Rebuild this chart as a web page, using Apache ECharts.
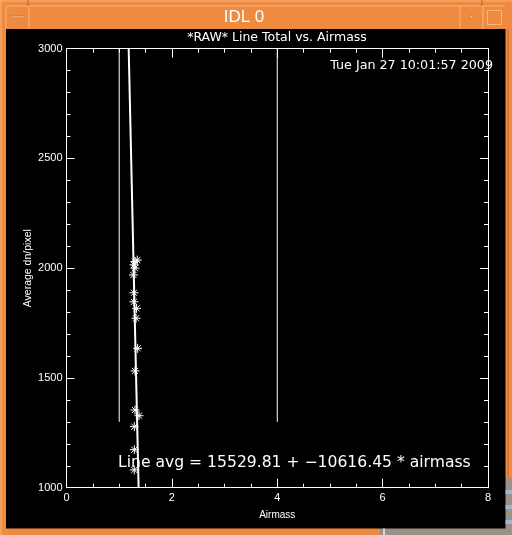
<!DOCTYPE html>
<html><head><meta charset="utf-8">
<script src="https://cdn.jsdelivr.net/npm/echarts@6/dist/echarts.min.js"></script>
<style>html,body{margin:0;padding:0;background:#000}#c{width:512px;height:535px}</style>
</head><body><div id="c"></div>
<script>
// ---- data ----
const airmass  = [1.343, 1.30, 1.28, 1.30, 1.27, 1.28, 1.28, 1.33, 1.32, 1.35, 1.30, 1.30, 1.376, 1.287, 1.287, 1.287];
const lineAvg  = [2037, 2030, 2015, 2000, 1969, 1888, 1847, 1817, 1772, 1635, 1532, 1354, 1328, 1278, 1173, 1081];
const fitIntercept = 15529.81;
const fitSlope = -10616.45;
const markerX = [1, 4];
const markerRange = [1300, 3000];
const xTicks = [0, 2, 4, 6, 8];
const yTicks = [1000, 1500, 2000, 2500, 3000];
const titleText = '*RAW* Line Total vs. Airmass';
const dateText = 'Tue Jan 27 10:01:57 2009';
const fitText = 'Line avg = 15529.81 + \u221210616.45 * airmass';
const xName = 'Airmass';
const yName = 'Average dn/pixel';
const windowTitle = 'IDL 0';

const FONT = '"DejaVu Sans", "Liberation Sans", sans-serif';
const LFONT = '"Liberation Sans", "DejaVu Sans", sans-serif';
const scatterPts = airmass.map((x, i) => [x, lineAvg[i]]);
const fitPts = [markerRange[1], yTicks[0]].map(v => [(v - fitIntercept) / fitSlope, v]);
const markerSeries = markerX.map(x => ({
  type: 'line', data: markerRange.map(v => [x, v]), symbol: 'none',
  lineStyle: { color: '#fff', width: 1 }, silent: true
}));

const ORANGE = '#ee8b40', LIGHT = '#f8b57e', DARK = '#b8642a', GRAY = '#9c8f86', BLUE = '#9fb2d8';
const GRID = { left: 66.5, right: 24, top: 48.7, bottom: 47.3, containLabel: false };

function xAx(gridIndex, position, interval, len, extra) {
  return Object.assign({
    gridIndex, position, type: 'value', min: xTicks[0], max: xTicks[xTicks.length - 1], interval,
    axisLine: { show: true, onZero: false, lineStyle: { color: '#fff', width: 1 } },
    axisTick: { show: true, inside: true, length: len, lineStyle: { color: '#fff', width: 1 } },
    axisLabel: { show: false }, splitLine: { show: false }
  }, extra || {});
}
function yAx(gridIndex, position, interval, len, extra) {
  return Object.assign({
    gridIndex, position, type: 'value', min: yTicks[0], max: yTicks[yTicks.length - 1], interval,
    axisLine: { show: true, onZero: false, lineStyle: { color: '#fff', width: 1 } },
    axisTick: { show: true, inside: true, length: len, lineStyle: { color: '#fff', width: 1 } },
    axisLabel: { show: false }, splitLine: { show: false }
  }, extra || {});
}
const noLineTick = { axisLine: { show: false, onZero: false }, axisTick: { show: false } };
const R = (x, y, w, h, fill) => ({ type: 'rect', z: 100, silent: true, shape: { x, y, width: w, height: h }, style: { fill } });
const L = (x1, y1, x2, y2, stroke) => ({ type: 'line', z: 101, silent: true, shape: { x1, y1, x2, y2 }, style: { stroke, lineWidth: 1 } });

const chart = echarts.init(document.getElementById('c'), null, { renderer: 'canvas' });
chart.setOption({
  backgroundColor: '#000',
  animation: false,
  grid: [GRID, GRID, GRID],
  xAxis: [
    xAx(0, 'bottom', 2, 9),
    xAx(0, 'top', 2, 9),
    xAx(1, 'bottom', 0.5, 4),
    xAx(1, 'top', 0.5, 4),
    xAx(2, 'bottom', 2, 0, Object.assign({}, noLineTick, {
      axisLabel: { show: true, color: '#fff', fontSize: 11, fontFamily: LFONT, margin: 5 },
      name: xName, nameLocation: 'middle', nameGap: 23, nameMoveOverlap: false,
      nameTextStyle: { color: '#fff', fontSize: 10, fontFamily: LFONT } }))
  ],
  yAxis: [
    yAx(0, 'left', 500, 8),
    yAx(0, 'right', 500, 8),
    yAx(1, 'left', 100, 4),
    yAx(1, 'right', 100, 4),
    yAx(2, 'left', 500, 0, Object.assign({}, noLineTick, {
      axisLabel: { show: true, color: '#fff', fontSize: 11, fontFamily: LFONT, margin: 4,
        formatter: v => String(v) },
      name: yName, nameLocation: 'middle', nameGap: 33, nameMoveOverlap: false,
      nameTextStyle: { color: '#fff', fontSize: 10.5, fontFamily: LFONT } }))
  ],
  series: [
    ...markerSeries,
    { type: 'line', data: fitPts, symbol: 'none', lineStyle: { color: '#fff', width: 2 } },
    { type: 'scatter', data: scatterPts,
      symbol: 'path://M5,0L5,10M0,5L10,5M1.6,1.6L8.4,8.4M1.6,8.4L8.4,1.6',
      symbolSize: 9,
      itemStyle: { color: 'rgba(0,0,0,0)', borderColor: '#fff', borderWidth: 1, opacity: 1 } }
  ],
  graphic: [
    R(0, 0, 512, 29, ORANGE),
    R(0, 0, 6, 535, ORANGE),
    R(505.5, 0, 6.5, 478, ORANGE),
    R(0, 528.5, 380, 6.5, ORANGE),
    R(505.5, 478, 6.5, 57, GRAY),
    R(505.5, 490, 6.5, 4, BLUE),
    R(505.5, 505, 6.5, 4, BLUE),
    R(505.5, 520, 6.5, 4, BLUE),
    R(380, 528.5, 132, 6.5, GRAY),
    R(383, 528.5, 2, 6.5, '#d8d8d8'),
    L(0, 1, 512, 1, LIGHT),
    L(1, 0, 1, 535, LIGHT),
    L(6, 6, 505, 6, LIGHT),
    L(6, 6, 6, 29, LIGHT),
    L(29, 6, 29, 29, LIGHT),
    L(460, 6, 460, 29, LIGHT),
    L(483, 6, 483, 29, LIGHT),
    L(28, 0, 28, 6, DARK),
    L(482, 0, 482, 6, DARK),
    L(508, 29, 508, 478, DARK),
    { type: 'rect', z: 102, shape: { x: 10, y: 16, width: 15, height: 2 }, style: { fill: LIGHT, stroke: DARK, lineWidth: 0.5 } },
    { type: 'rect', z: 102, shape: { x: 470, y: 15.5, width: 3, height: 3 }, style: { fill: LIGHT, stroke: DARK, lineWidth: 0.5 } },
    { type: 'rect', z: 102, shape: { x: 487.5, y: 10.5, width: 14, height: 14 }, style: { fill: ORANGE, stroke: LIGHT, lineWidth: 1 } },
    { type: 'text', z: 103, x: 244, y: 17, style: { text: windowTitle, fill: '#fff', font: '17px ' + LFONT, textAlign: 'center', textVerticalAlign: 'middle' } },
    { type: 'text', z: 50, x: 277, y: 38, style: { text: titleText, fill: '#fff', font: '12.5px ' + FONT, textAlign: 'center', textVerticalAlign: 'middle' } },
    { type: 'text', z: 50, x: 493, y: 66, style: { text: dateText, fill: '#fff', font: '12.7px ' + FONT, textAlign: 'right', textVerticalAlign: 'middle' } },
    { type: 'text', z: 50, x: 118, y: 462.5, style: { text: fitText, fill: '#fff', font: '15.6px ' + FONT, textAlign: 'left', textVerticalAlign: 'middle' } }
  ]
});
</script></body></html>
